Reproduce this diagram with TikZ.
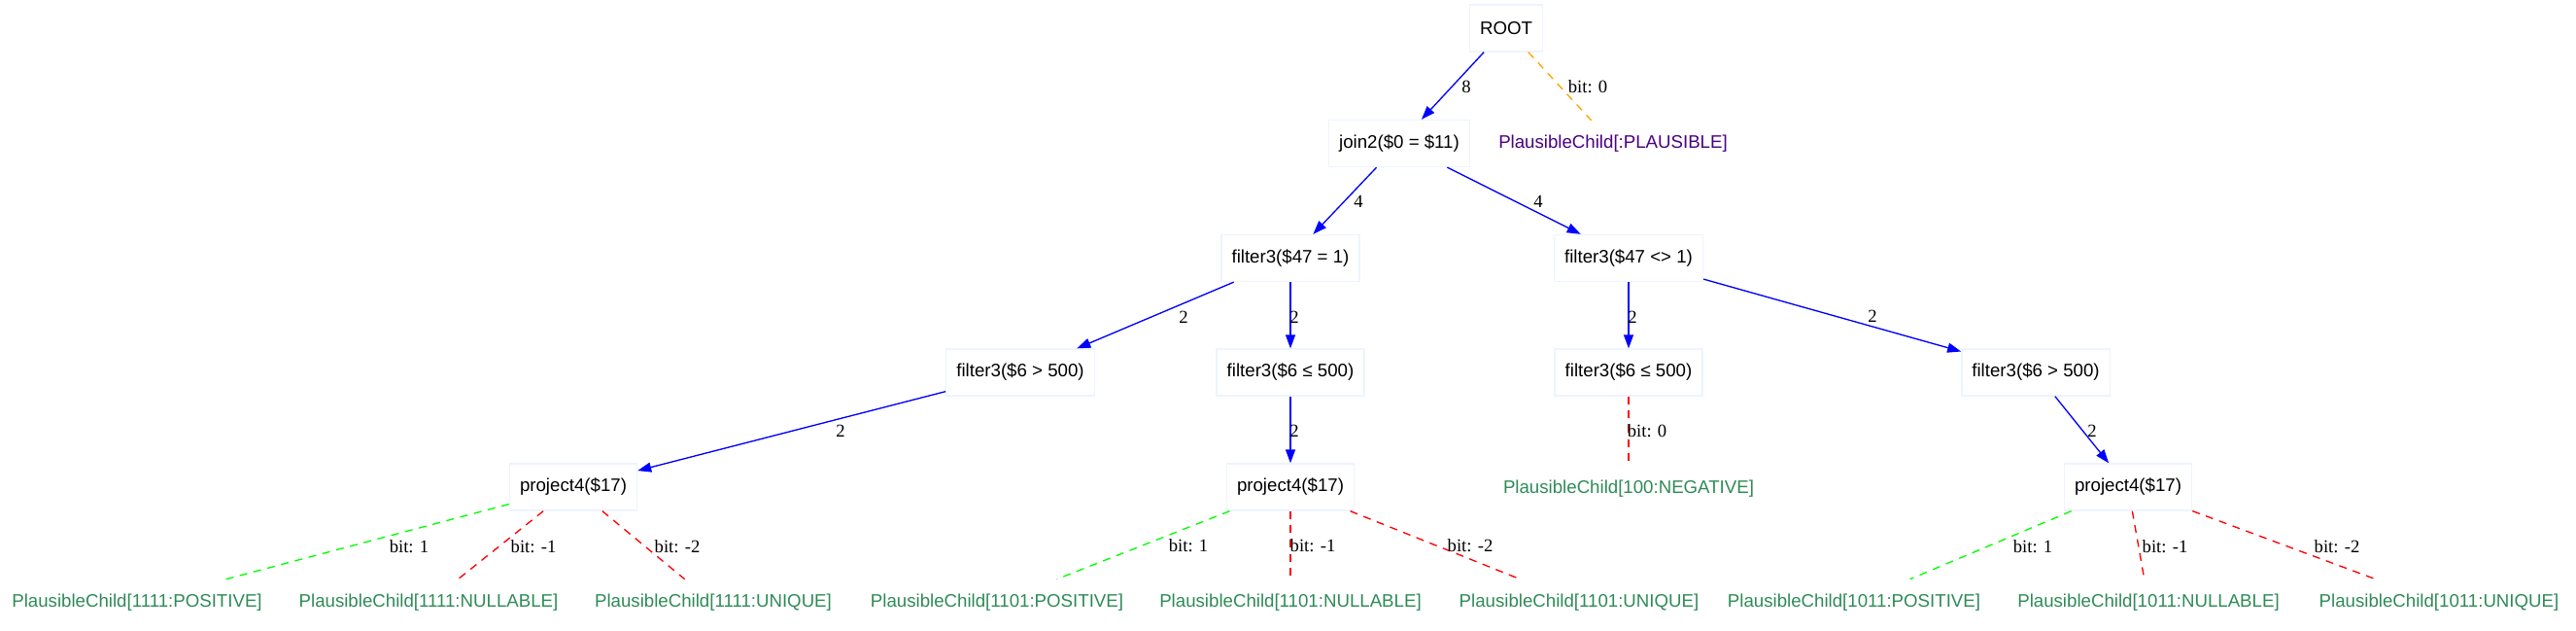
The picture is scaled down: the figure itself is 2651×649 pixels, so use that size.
\documentclass[tikz,border=0pt]{standalone}
\usepackage{fontspec}
\setmainfont{Liberation Sans}
\newfontfamily\lblfont{Liberation Serif}
\usetikzlibrary{arrows.meta}
\definecolor{nodeborder}{HTML}{EDF4FF}
\definecolor{leafgreen}{HTML}{2E8B57}
\definecolor{plaus}{HTML}{4B0082}
\definecolor{edgeorange}{HTML}{FFA500}
\definecolor{edgegreen}{HTML}{00FF00}
\begin{document}
\begin{tikzpicture}[x=0.75pt,y=-0.75pt,
  opnode/.style={draw=nodeborder, line width=1pt, rectangle, minimum height=36pt, minimum width=54pt, inner xsep=7.92pt, inner ysep=0pt, font=\fontsize{14}{16}\selectfont},
  leafnode/.style={rectangle, minimum height=36pt, minimum width=54pt, inner xsep=7.92pt, inner ysep=0pt, text=leafgreen, font=\fontsize{14}{16}\selectfont},
  lbl/.style={font=\lblfont\fontsize{14}{16}\selectfont, inner sep=0pt},
  flow/.style={draw=blue, line width=1pt, -{Triangle[length=10.5pt,width=7.5pt]}},
  bitedge/.style={line width=1pt, dash pattern=on 6pt off 5pt},
]
\useasboundingbox[fill=white] (0,0) rectangle (2651,649);
% operator nodes
\node[opnode] (root) at (1550,29) {ROOT};
\node[opnode] (join) at (1440,147.5) {join2(\$0 = \$11)};
\node[leafnode, text=plaus] (plaus) at (1660,148) {PlausibleChild[:PLAUSIBLE]};
\node[opnode] (fa) at (1328,265.5) {filter3(\$47 = 1)};
\node[opnode] (fb) at (1676,265.5) {filter3(\$47 <> 1)};
\node[opnode] (fc) at (1050,383) {filter3(\$6 > 500)};
\node[opnode] (fd) at (1328,383) {filter3(\$6 ≤ 500)};
\node[opnode] (fe) at (1676,383) {filter3(\$6 ≤ 500)};
\node[opnode] (ff) at (2095,383) {filter3(\$6 > 500)};
\node[opnode] (pa) at (590,501) {project4(\$17)};
\node[opnode] (pb) at (1328,501) {project4(\$17)};
\node[leafnode] (neg) at (1676,503) {PlausibleChild[100:NEGATIVE]};
\node[opnode] (pc) at (2190,501) {project4(\$17)};
% leaves
\node[leafnode] (a1) at (141,620) {PlausibleChild[1111:POSITIVE]};
\node[leafnode] (a2) at (441,620) {PlausibleChild[1111:NULLABLE]};
\node[leafnode] (a3) at (734,620) {PlausibleChild[1111:UNIQUE]};
\node[leafnode] (b1) at (1026,620) {PlausibleChild[1101:POSITIVE]};
\node[leafnode] (b2) at (1328,620) {PlausibleChild[1101:NULLABLE]};
\node[leafnode] (b3) at (1625,620) {PlausibleChild[1101:UNIQUE]};
\node[leafnode] (c1) at (1908,620) {PlausibleChild[1011:POSITIVE]};
\node[leafnode] (c2) at (2211,620) {PlausibleChild[1011:NULLABLE]};
\node[leafnode] (c3) at (2510,620) {PlausibleChild[1011:UNIQUE]};
% flow edges
\draw[flow] (root) -- (join);
\draw[flow] (join) -- (fa);
\draw[flow] (join) -- (fb);
\draw[flow] (fa) -- (fc);
\draw[flow] (fa) -- (fd);
\draw[flow] (fb) -- (fe);
\draw[flow] (fb) -- (ff);
\draw[flow] (fc) -- (pa);
\draw[flow] (fd) -- (pb);
\draw[flow] (ff) -- (pc);
% bit edges
\draw[bitedge, draw=edgeorange] (root) -- (plaus);
\draw[bitedge, draw=red] (fe) -- (neg);
\draw[bitedge, draw=edgegreen] (pa) -- (a1);
\draw[bitedge, draw=red] (pa) -- (a2);
\draw[bitedge, draw=red] (pa) -- (a3);
\draw[bitedge, draw=edgegreen] (pb) -- (b1);
\draw[bitedge, draw=red] (pb) -- (b2);
\draw[bitedge, draw=red] (pb) -- (b3);
\draw[bitedge, draw=edgegreen] (pc) -- (c1);
\draw[bitedge, draw=red] (pc) -- (c2);
\draw[bitedge, draw=red] (pc) -- (c3);
% edge labels
\node[lbl] (l1) at (1509,89) {8};
\node[lbl] (l2) at (1634,89) {bit: 0};
\node[lbl] (l3) at (1398,207) {4};
\node[lbl] (l4) at (1583,207) {4};
\node[lbl] (l5) at (1218,326) {2};
\node[lbl] (l6) at (1332,326) {2};
\node[lbl] (l7) at (1680,326) {2};
\node[lbl] (l8) at (1927,325) {2};
\node[lbl] (l9) at (865,443) {2};
\node[lbl] (l10) at (1332,443) {2};
\node[lbl] (l11) at (1695,443) {bit: 0};
\node[lbl] (l12) at (2153,443) {2};
\node[lbl] (l13) at (421,562) {bit: 1};
\node[lbl] (l14) at (549,562) {bit: -1};
\node[lbl] (l15) at (697,562) {bit: -2};
\node[lbl] (l16) at (1223,561) {bit: 1};
\node[lbl] (l17) at (1351,561) {bit: -1};
\node[lbl] (l18) at (1513,561) {bit: -2};
\node[lbl] (l19) at (2092,562) {bit: 1};
\node[lbl] (l20) at (2228,562) {bit: -1};
\node[lbl] (l21) at (2405,562) {bit: -2};
\end{tikzpicture}
\end{document}
